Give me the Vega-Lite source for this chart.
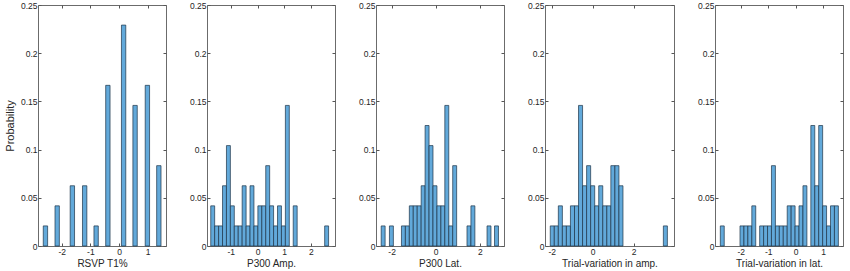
{
  "$schema": "https://vega.github.io/schema/vega-lite/v6.json",
  "background": "white",
  "padding": {"left": 3, "top": 0, "right": 2, "bottom": 0},
  "spacing": 41,
  "bounds": "flush",
  "config": {
    "view": {"stroke": "#6b6b6b", "strokeWidth": 1},
    "axis": {
      "labelFont": "Liberation Sans",
      "titleFont": "Liberation Sans",
      "labelFontSize": 8.5,
      "titleFontSize": 10,
      "labelColor": "#262626",
      "titleColor": "#262626",
      "titleFontWeight": "normal",
      "grid": false,
      "domain": false,
      "ticks": true,
      "tickColor": "#555555",
      "tickSize": -3,
      "labelPadding": 4
    },
    "axisX": {"titlePadding": 3},
    "axisY": {"titlePadding": 5, "titleFontSize": 11}
  },
  "datasets": {
    "d1": [
      {"bin_start": -2.646, "bin_end": -2.494, "probability": 0.02083},
      {"bin_start": -2.236, "bin_end": -2.084, "probability": 0.04167},
      {"bin_start": -1.706, "bin_end": -1.554, "probability": 0.0625},
      {"bin_start": -1.276, "bin_end": -1.124, "probability": 0.0625},
      {"bin_start": -0.876, "bin_end": -0.724, "probability": 0.02083},
      {"bin_start": -0.466, "bin_end": -0.314, "probability": 0.16667},
      {"bin_start": 0.084, "bin_end": 0.236, "probability": 0.22917},
      {"bin_start": 0.484, "bin_end": 0.636, "probability": 0.14583},
      {"bin_start": 0.914, "bin_end": 1.066, "probability": 0.16667},
      {"bin_start": 1.314, "bin_end": 1.466, "probability": 0.08333}
    ],
    "d2": [
      {"bin_start": -1.750, "bin_end": -1.603, "probability": 0.04167},
      {"bin_start": -1.603, "bin_end": -1.456, "probability": 0.02083},
      {"bin_start": -1.456, "bin_end": -1.309, "probability": 0.02083},
      {"bin_start": -1.309, "bin_end": -1.162, "probability": 0.0625},
      {"bin_start": -1.162, "bin_end": -1.015, "probability": 0.10417},
      {"bin_start": -1.015, "bin_end": -0.868, "probability": 0.04167},
      {"bin_start": -0.868, "bin_end": -0.721, "probability": 0.02083},
      {"bin_start": -0.721, "bin_end": -0.574, "probability": 0.02083},
      {"bin_start": -0.574, "bin_end": -0.427, "probability": 0.0625},
      {"bin_start": -0.427, "bin_end": -0.280, "probability": 0.02083},
      {"bin_start": -0.280, "bin_end": -0.133, "probability": 0.0625},
      {"bin_start": -0.133, "bin_end": 0.014, "probability": 0.02083},
      {"bin_start": 0.014, "bin_end": 0.161, "probability": 0.04167},
      {"bin_start": 0.161, "bin_end": 0.308, "probability": 0.04167},
      {"bin_start": 0.308, "bin_end": 0.455, "probability": 0.08333},
      {"bin_start": 0.455, "bin_end": 0.602, "probability": 0.04167},
      {"bin_start": 0.602, "bin_end": 0.749, "probability": 0.02083},
      {"bin_start": 0.749, "bin_end": 0.896, "probability": 0.04167},
      {"bin_start": 0.896, "bin_end": 1.043, "probability": 0.02083},
      {"bin_start": 1.043, "bin_end": 1.190, "probability": 0.14583},
      {"bin_start": 1.337, "bin_end": 1.484, "probability": 0.04167},
      {"bin_start": 2.513, "bin_end": 2.660, "probability": 0.02083}
    ],
    "d3": [
      {"bin_start": -2.475, "bin_end": -2.296, "probability": 0.02083},
      {"bin_start": -2.100, "bin_end": -1.921, "probability": 0.02083},
      {"bin_start": -1.555, "bin_end": -1.376, "probability": 0.02083},
      {"bin_start": -1.376, "bin_end": -1.197, "probability": 0.02083},
      {"bin_start": -1.197, "bin_end": -1.018, "probability": 0.04167},
      {"bin_start": -1.018, "bin_end": -0.839, "probability": 0.04167},
      {"bin_start": -0.839, "bin_end": -0.660, "probability": 0.04167},
      {"bin_start": -0.660, "bin_end": -0.481, "probability": 0.0625},
      {"bin_start": -0.481, "bin_end": -0.302, "probability": 0.125},
      {"bin_start": -0.302, "bin_end": -0.123, "probability": 0.10417},
      {"bin_start": -0.123, "bin_end": 0.056, "probability": 0.0625},
      {"bin_start": 0.056, "bin_end": 0.235, "probability": 0.04167},
      {"bin_start": 0.235, "bin_end": 0.414, "probability": 0.04167},
      {"bin_start": 0.414, "bin_end": 0.593, "probability": 0.14583},
      {"bin_start": 0.593, "bin_end": 0.772, "probability": 0.02083},
      {"bin_start": 0.772, "bin_end": 0.951, "probability": 0.08333},
      {"bin_start": 1.420, "bin_end": 1.599, "probability": 0.02083},
      {"bin_start": 1.599, "bin_end": 1.778, "probability": 0.04167},
      {"bin_start": 2.330, "bin_end": 2.509, "probability": 0.02083},
      {"bin_start": 2.670, "bin_end": 2.849, "probability": 0.02083}
    ],
    "d4": [
      {"bin_start": -2.073, "bin_end": -1.875, "probability": 0.02083},
      {"bin_start": -1.875, "bin_end": -1.678, "probability": 0.02083},
      {"bin_start": -1.678, "bin_end": -1.480, "probability": 0.04167},
      {"bin_start": -1.480, "bin_end": -1.283, "probability": 0.02083},
      {"bin_start": -1.283, "bin_end": -1.085, "probability": 0.02083},
      {"bin_start": -1.085, "bin_end": -0.887, "probability": 0.04167},
      {"bin_start": -0.887, "bin_end": -0.690, "probability": 0.04167},
      {"bin_start": -0.690, "bin_end": -0.492, "probability": 0.14583},
      {"bin_start": -0.492, "bin_end": -0.295, "probability": 0.0625},
      {"bin_start": -0.295, "bin_end": -0.097, "probability": 0.08333},
      {"bin_start": -0.097, "bin_end": 0.101, "probability": 0.0625},
      {"bin_start": 0.101, "bin_end": 0.298, "probability": 0.04167},
      {"bin_start": 0.298, "bin_end": 0.496, "probability": 0.0625},
      {"bin_start": 0.496, "bin_end": 0.694, "probability": 0.04167},
      {"bin_start": 0.694, "bin_end": 0.891, "probability": 0.04167},
      {"bin_start": 0.891, "bin_end": 1.089, "probability": 0.08333},
      {"bin_start": 1.089, "bin_end": 1.286, "probability": 0.08333},
      {"bin_start": 1.286, "bin_end": 1.484, "probability": 0.0625},
      {"bin_start": 3.460, "bin_end": 3.657, "probability": 0.02083}
    ],
    "d5": [
      {"bin_start": -2.746, "bin_end": -2.603, "probability": 0.02083},
      {"bin_start": -2.029, "bin_end": -1.885, "probability": 0.02083},
      {"bin_start": -1.885, "bin_end": -1.742, "probability": 0.02083},
      {"bin_start": -1.742, "bin_end": -1.598, "probability": 0.02083},
      {"bin_start": -1.598, "bin_end": -1.455, "probability": 0.04167},
      {"bin_start": -1.312, "bin_end": -1.168, "probability": 0.02083},
      {"bin_start": -1.168, "bin_end": -1.025, "probability": 0.02083},
      {"bin_start": -1.025, "bin_end": -0.882, "probability": 0.02083},
      {"bin_start": -0.882, "bin_end": -0.738, "probability": 0.08333},
      {"bin_start": -0.738, "bin_end": -0.595, "probability": 0.02083},
      {"bin_start": -0.595, "bin_end": -0.451, "probability": 0.02083},
      {"bin_start": -0.451, "bin_end": -0.308, "probability": 0.02083},
      {"bin_start": -0.308, "bin_end": -0.164, "probability": 0.04167},
      {"bin_start": -0.164, "bin_end": -0.021, "probability": 0.04167},
      {"bin_start": -0.021, "bin_end": 0.122, "probability": 0.02083},
      {"bin_start": 0.122, "bin_end": 0.266, "probability": 0.04167},
      {"bin_start": 0.266, "bin_end": 0.409, "probability": 0.0625},
      {"bin_start": 0.553, "bin_end": 0.696, "probability": 0.125},
      {"bin_start": 0.696, "bin_end": 0.840, "probability": 0.0625},
      {"bin_start": 0.840, "bin_end": 0.983, "probability": 0.125},
      {"bin_start": 0.983, "bin_end": 1.126, "probability": 0.04167},
      {"bin_start": 1.126, "bin_end": 1.270, "probability": 0.02083},
      {"bin_start": 1.270, "bin_end": 1.413, "probability": 0.04167},
      {"bin_start": 1.413, "bin_end": 1.557, "probability": 0.04167}
    ]
  },
  "hconcat": [
    {
      "width": 128, "height": 241,
      "data": {"name": "d1"},
      "resolve": {"axis": {"x": "independent", "y": "independent"}},
      "layer": [
        {
          "mark": {"type": "bar", "fill": "#62A9DA", "stroke": "#1d3347", "strokeWidth": 0.7},
          "encoding": {
            "x": {"field": "bin_start", "type": "quantitative", "scale": {"domain": [-2.83, 1.64], "nice": false, "zero": false},
                  "axis": {"values": [-2, -1, 0, 1], "title": "RSVP T1%", "labelExpr": "datum.value < 0 ? '-' + format(-datum.value, '~g') : format(datum.value, '~g')"}},
            "x2": {"field": "bin_end"},
            "y": {"field": "probability", "type": "quantitative", "scale": {"domain": [0, 0.25], "nice": false},
                  "axis": {"values": [0, 0.05, 0.1, 0.15, 0.2, 0.25], "title": "Probability", "labelExpr": "format(datum.value, '~g')"}},
            "y2": {"datum": 0}
          }
        },
        {
          "mark": {"type": "bar", "opacity": 0},
          "encoding": {
            "x": {"field": "bin_start", "type": "quantitative", "axis": {"orient": "top", "values": [-2, -1, 0, 1], "labels": false, "title": null}},
            "x2": {"field": "bin_end"},
            "y": {"field": "probability", "type": "quantitative", "axis": {"orient": "right", "values": [0, 0.05, 0.1, 0.15, 0.2, 0.25], "labels": false, "title": null}},
            "y2": {"datum": 0}
          }
        }
      ]
    },
    {
      "width": 128, "height": 241,
      "data": {"name": "d2"},
      "resolve": {"axis": {"x": "independent", "y": "independent"}},
      "layer": [
        {
          "mark": {"type": "bar", "fill": "#62A9DA", "stroke": "#1d3347", "strokeWidth": 0.7},
          "encoding": {
            "x": {"field": "bin_start", "type": "quantitative", "scale": {"domain": [-1.89, 2.9], "nice": false, "zero": false},
                  "axis": {"values": [-1, 0, 1, 2], "title": "P300 Amp.", "labelExpr": "datum.value < 0 ? '-' + format(-datum.value, '~g') : format(datum.value, '~g')"}},
            "x2": {"field": "bin_end"},
            "y": {"field": "probability", "type": "quantitative", "scale": {"domain": [0, 0.25], "nice": false},
                  "axis": {"values": [0, 0.05, 0.1, 0.15, 0.2, 0.25], "title": null, "labelExpr": "format(datum.value, '~g')"}},
            "y2": {"datum": 0}
          }
        },
        {
          "mark": {"type": "bar", "opacity": 0},
          "encoding": {
            "x": {"field": "bin_start", "type": "quantitative", "axis": {"orient": "top", "values": [-1, 0, 1, 2], "labels": false, "title": null}},
            "x2": {"field": "bin_end"},
            "y": {"field": "probability", "type": "quantitative", "axis": {"orient": "right", "values": [0, 0.05, 0.1, 0.15, 0.2, 0.25], "labels": false, "title": null}},
            "y2": {"datum": 0}
          }
        }
      ]
    },
    {
      "width": 128, "height": 241,
      "data": {"name": "d3"},
      "resolve": {"axis": {"x": "independent", "y": "independent"}},
      "layer": [
        {
          "mark": {"type": "bar", "fill": "#62A9DA", "stroke": "#1d3347", "strokeWidth": 0.7},
          "encoding": {
            "x": {"field": "bin_start", "type": "quantitative", "scale": {"domain": [-2.71, 3.1], "nice": false, "zero": false},
                  "axis": {"values": [-2, 0, 2], "title": "P300 Lat.", "labelExpr": "datum.value < 0 ? '-' + format(-datum.value, '~g') : format(datum.value, '~g')"}},
            "x2": {"field": "bin_end"},
            "y": {"field": "probability", "type": "quantitative", "scale": {"domain": [0, 0.25], "nice": false},
                  "axis": {"values": [0, 0.05, 0.1, 0.15, 0.2, 0.25], "title": null, "labelExpr": "format(datum.value, '~g')"}},
            "y2": {"datum": 0}
          }
        },
        {
          "mark": {"type": "bar", "opacity": 0},
          "encoding": {
            "x": {"field": "bin_start", "type": "quantitative", "axis": {"orient": "top", "values": [-2, 0, 2], "labels": false, "title": null}},
            "x2": {"field": "bin_end"},
            "y": {"field": "probability", "type": "quantitative", "axis": {"orient": "right", "values": [0, 0.05, 0.1, 0.15, 0.2, 0.25], "labels": false, "title": null}},
            "y2": {"datum": 0}
          }
        }
      ]
    },
    {
      "width": 129, "height": 241,
      "data": {"name": "d4"},
      "resolve": {"axis": {"x": "independent", "y": "independent"}},
      "layer": [
        {
          "mark": {"type": "bar", "fill": "#62A9DA", "stroke": "#1d3347", "strokeWidth": 0.7},
          "encoding": {
            "x": {"field": "bin_start", "type": "quantitative", "scale": {"domain": [-2.33, 3.98], "nice": false, "zero": false},
                  "axis": {"values": [-2, 0, 2], "title": "Trial-variation in amp.", "labelExpr": "datum.value < 0 ? '-' + format(-datum.value, '~g') : format(datum.value, '~g')"}},
            "x2": {"field": "bin_end"},
            "y": {"field": "probability", "type": "quantitative", "scale": {"domain": [0, 0.25], "nice": false},
                  "axis": {"values": [0, 0.05, 0.1, 0.15, 0.2, 0.25], "title": null, "labelExpr": "format(datum.value, '~g')"}},
            "y2": {"datum": 0}
          }
        },
        {
          "mark": {"type": "bar", "opacity": 0},
          "encoding": {
            "x": {"field": "bin_start", "type": "quantitative", "axis": {"orient": "top", "values": [-2, 0, 2], "labels": false, "title": null}},
            "x2": {"field": "bin_end"},
            "y": {"field": "probability", "type": "quantitative", "axis": {"orient": "right", "values": [0, 0.05, 0.1, 0.15, 0.2, 0.25], "labels": false, "title": null}},
            "y2": {"datum": 0}
          }
        }
      ]
    },
    {
      "width": 128, "height": 241,
      "data": {"name": "d5"},
      "resolve": {"axis": {"x": "independent", "y": "independent"}},
      "layer": [
        {
          "mark": {"type": "bar", "fill": "#62A9DA", "stroke": "#1d3347", "strokeWidth": 0.7},
          "encoding": {
            "x": {"field": "bin_start", "type": "quantitative", "scale": {"domain": [-2.94, 1.725], "nice": false, "zero": false},
                  "axis": {"values": [-2, -1, 0, 1], "title": "Trial-variation in lat.", "labelExpr": "datum.value < 0 ? '-' + format(-datum.value, '~g') : format(datum.value, '~g')"}},
            "x2": {"field": "bin_end"},
            "y": {"field": "probability", "type": "quantitative", "scale": {"domain": [0, 0.25], "nice": false},
                  "axis": {"values": [0, 0.05, 0.1, 0.15, 0.2, 0.25], "title": null, "labelExpr": "format(datum.value, '~g')"}},
            "y2": {"datum": 0}
          }
        },
        {
          "mark": {"type": "bar", "opacity": 0},
          "encoding": {
            "x": {"field": "bin_start", "type": "quantitative", "axis": {"orient": "top", "values": [-2, -1, 0, 1], "labels": false, "title": null}},
            "x2": {"field": "bin_end"},
            "y": {"field": "probability", "type": "quantitative", "axis": {"orient": "right", "values": [0, 0.05, 0.1, 0.15, 0.2, 0.25], "labels": false, "title": null}},
            "y2": {"datum": 0}
          }
        }
      ]
    }
  ]
}
